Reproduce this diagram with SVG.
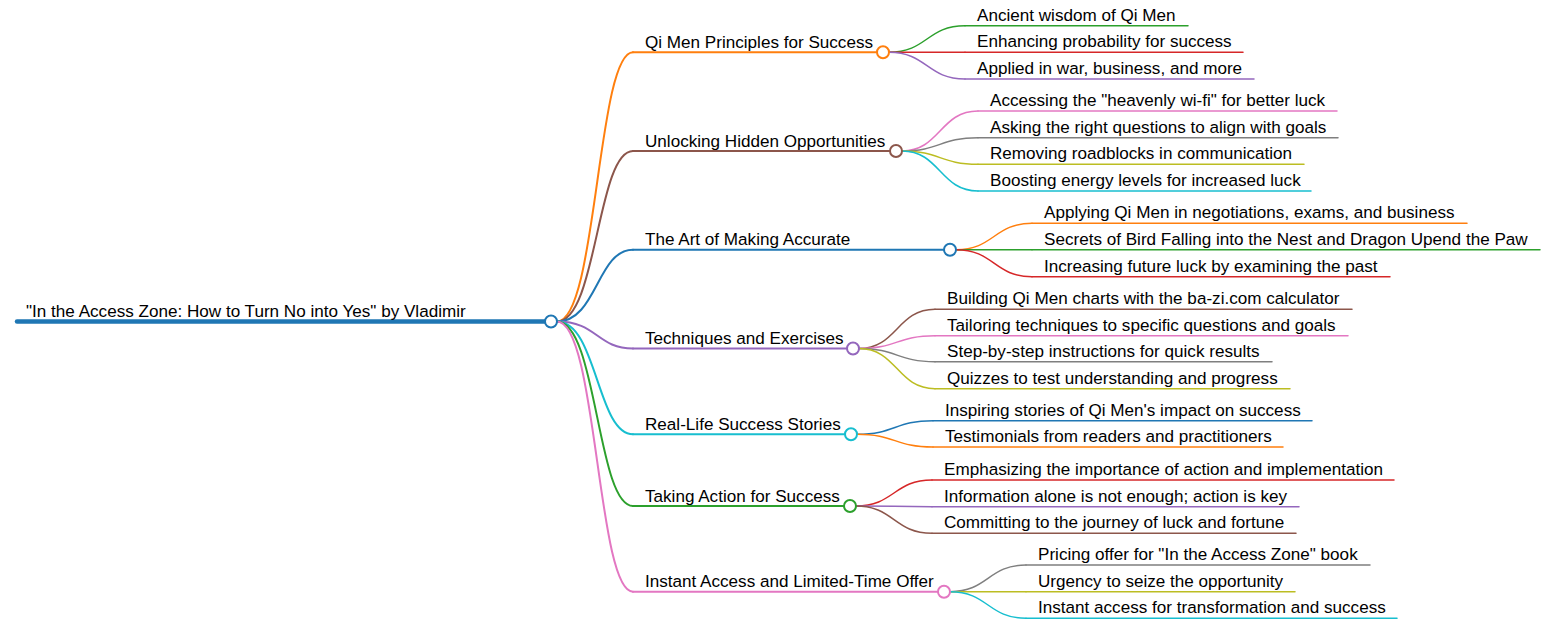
<svg xmlns="http://www.w3.org/2000/svg" width="1553" height="632" viewBox="0 0 1553 632">
<style>
text{font-family:"Liberation Sans",Arial,sans-serif;font-size:17.1px;fill:#000}
path{fill:none;stroke-linecap:round}
.l1{stroke-width:2}
.l2{stroke-width:1.5}
.root{stroke-width:4.5}
circle{fill:#fff;stroke-width:2}
.blue{stroke:#1f77b4}.orange{stroke:#ff7f0e}.green{stroke:#2ca02c}.red{stroke:#d62728}.purple{stroke:#9467bd}
.brown{stroke:#8c564b}.pink{stroke:#e377c2}.gray{stroke:#7f7f7f}.olive{stroke:#bcbd22}.cyan{stroke:#17becf}
</style>
<rect width="1553" height="632" fill="#fff"/>
<g id="connectors">
<path class="l1 orange" d="M557,321.5 C597,321.5 597,52.3 633,52.3"/>
<path class="l1 brown" d="M557,321.5 C597,321.5 597,151 633,151"/>
<path class="l1 blue" d="M557,321.5 C597,321.5 597,249.7 633,249.7"/>
<path class="l1 purple" d="M557,321.5 C597,321.5 597,348.5 633,348.5"/>
<path class="l1 cyan" d="M557,321.5 C597,321.5 597,434.3 633,434.3"/>
<path class="l1 green" d="M557,321.5 C597,321.5 597,506 633,506"/>
<path class="l1 pink" d="M557,321.5 C597,321.5 597,591.7 633,591.7"/>
<path class="l2 green" d="M889,52.3 C927,52.3 927,25.7 965,25.7"/>
<path class="l2 red" d="M889,52.3 C927,52.3 927,52.3 965,52.3"/>
<path class="l2 purple" d="M889,52.3 C927,52.3 927,79 965,79"/>
<path class="l2 pink" d="M902,151 C940,151 940,111 978,111"/>
<path class="l2 gray" d="M902,151 C940,151 940,137.7 978,137.7"/>
<path class="l2 olive" d="M902,151 C940,151 940,164.3 978,164.3"/>
<path class="l2 cyan" d="M902,151 C940,151 940,191 978,191"/>
<path class="l2 orange" d="M956,249.7 C994,249.7 994,223.3 1032,223.3"/>
<path class="l2 green" d="M956,249.7 C994,249.7 994,249.7 1032,249.7"/>
<path class="l2 red" d="M956,249.7 C994,249.7 994,276.7 1032,276.7"/>
<path class="l2 brown" d="M859,348.5 C897,348.5 897,309.3 935,309.3"/>
<path class="l2 pink" d="M859,348.5 C897,348.5 897,335.7 935,335.7"/>
<path class="l2 gray" d="M859,348.5 C897,348.5 897,361.7 935,361.7"/>
<path class="l2 olive" d="M859,348.5 C897,348.5 897,388.7 935,388.7"/>
<path class="l2 blue" d="M857,434.3 C895,434.3 895,420.7 933,420.7"/>
<path class="l2 orange" d="M857,434.3 C895,434.3 895,447 933,447"/>
<path class="l2 red" d="M856,506 C894,506 894,480 932,480"/>
<path class="l2 purple" d="M856,506 C894,506 894,506.7 932,506.7"/>
<path class="l2 brown" d="M856,506 C894,506 894,533.3 932,533.3"/>
<path class="l2 gray" d="M950,591.7 C988,591.7 988,565 1026,565"/>
<path class="l2 olive" d="M950,591.7 C988,591.7 988,591.7 1026,591.7"/>
<path class="l2 cyan" d="M950,591.7 C988,591.7 988,618.3 1026,618.3"/>
</g>
<g id="root">
<path class="root blue" d="M17,321.5 H545"/>
<text x="26" y="316.8">"In the Access Zone: How to Turn No into Yes" by Vladimir</text>
<circle class="blue" cx="551" cy="321.5" r="6"/>
</g>
<g id="n1">
<path class="l1 orange" d="M633,52.3 H877"/>
<text x="645" y="47.8">Qi Men Principles for Success</text>
<circle class="orange" cx="883" cy="52.3" r="6"/>
</g>
<g id="n1-1"><path class="l2 green" d="M965,25.7 H1188"/><text x="977" y="20.7">Ancient wisdom of Qi Men</text></g>
<g id="n1-2"><path class="l2 red" d="M965,52.3 H1243"/><text x="977" y="47.3">Enhancing probability for success</text></g>
<g id="n1-3"><path class="l2 purple" d="M965,79 H1254"/><text x="977" y="74">Applied in war, business, and more</text></g>
<g id="n2">
<path class="l1 brown" d="M633,151 H890"/>
<text x="645" y="146.5">Unlocking Hidden Opportunities</text>
<circle class="brown" cx="896" cy="151" r="6"/>
</g>
<g id="n2-1"><path class="l2 pink" d="M978,111 H1337"/><text x="990" y="106">Accessing the "heavenly wi-fi" for better luck</text></g>
<g id="n2-2"><path class="l2 gray" d="M978,137.7 H1338"/><text x="990" y="132.7">Asking the right questions to align with goals</text></g>
<g id="n2-3"><path class="l2 olive" d="M978,164.3 H1304"/><text x="990" y="159.3">Removing roadblocks in communication</text></g>
<g id="n2-4"><path class="l2 cyan" d="M978,191 H1311"/><text x="990" y="186">Boosting energy levels for increased luck</text></g>
<g id="n3">
<path class="l1 blue" d="M633,249.7 H944"/>
<text x="645" y="245.2">The Art of Making Accurate</text>
<circle class="blue" cx="950" cy="249.7" r="6"/>
</g>
<g id="n3-1"><path class="l2 orange" d="M1032,223.3 H1467"/><text x="1044" y="218.3">Applying Qi Men in negotiations, exams, and business</text></g>
<g id="n3-2"><path class="l2 green" d="M1032,249.7 H1540"/><text x="1044" y="244.7">Secrets of Bird Falling into the Nest and Dragon Upend the Paw</text></g>
<g id="n3-3"><path class="l2 red" d="M1032,276.7 H1390"/><text x="1044" y="271.7">Increasing future luck by examining the past</text></g>
<g id="n4">
<path class="l1 purple" d="M633,348.5 H847"/>
<text x="645" y="344">Techniques and Exercises</text>
<circle class="purple" cx="853" cy="348.5" r="6"/>
</g>
<g id="n4-1"><path class="l2 brown" d="M935,309.3 H1352"/><text x="947" y="304.3">Building Qi Men charts with the ba-zi.com calculator</text></g>
<g id="n4-2"><path class="l2 pink" d="M935,335.7 H1348"/><text x="947" y="330.7">Tailoring techniques to specific questions and goals</text></g>
<g id="n4-3"><path class="l2 gray" d="M935,361.7 H1272"/><text x="947" y="356.7">Step-by-step instructions for quick results</text></g>
<g id="n4-4"><path class="l2 olive" d="M935,388.7 H1290"/><text x="947" y="383.7">Quizzes to test understanding and progress</text></g>
<g id="n5">
<path class="l1 cyan" d="M633,434.3 H845"/>
<text x="645" y="429.8">Real-Life Success Stories</text>
<circle class="cyan" cx="851" cy="434.3" r="6"/>
</g>
<g id="n5-1"><path class="l2 blue" d="M933,420.7 H1312"/><text x="945" y="415.7">Inspiring stories of Qi Men's impact on success</text></g>
<g id="n5-2"><path class="l2 orange" d="M933,447 H1283"/><text x="945" y="442">Testimonials from readers and practitioners</text></g>
<g id="n6">
<path class="l1 green" d="M633,506 H844"/>
<text x="645" y="501.5">Taking Action for Success</text>
<circle class="green" cx="850" cy="506" r="6"/>
</g>
<g id="n6-1"><path class="l2 red" d="M932,480 H1394"/><text x="944" y="475">Emphasizing the importance of action and implementation</text></g>
<g id="n6-2"><path class="l2 purple" d="M932,506.7 H1299"/><text x="944" y="501.7">Information alone is not enough; action is key</text></g>
<g id="n6-3"><path class="l2 brown" d="M932,533.3 H1296"/><text x="944" y="528.3">Committing to the journey of luck and fortune</text></g>
<g id="n7">
<path class="l1 pink" d="M633,591.7 H938"/>
<text x="645" y="587.2">Instant Access and Limited-Time Offer</text>
<circle class="pink" cx="944" cy="591.7" r="6"/>
</g>
<g id="n7-1"><path class="l2 gray" d="M1026,565 H1370"/><text x="1038" y="560">Pricing offer for "In the Access Zone" book</text></g>
<g id="n7-2"><path class="l2 olive" d="M1026,591.7 H1295"/><text x="1038" y="586.7">Urgency to seize the opportunity</text></g>
<g id="n7-3"><path class="l2 cyan" d="M1026,618.3 H1397"/><text x="1038" y="613.3">Instant access for transformation and success</text></g>
</svg>
